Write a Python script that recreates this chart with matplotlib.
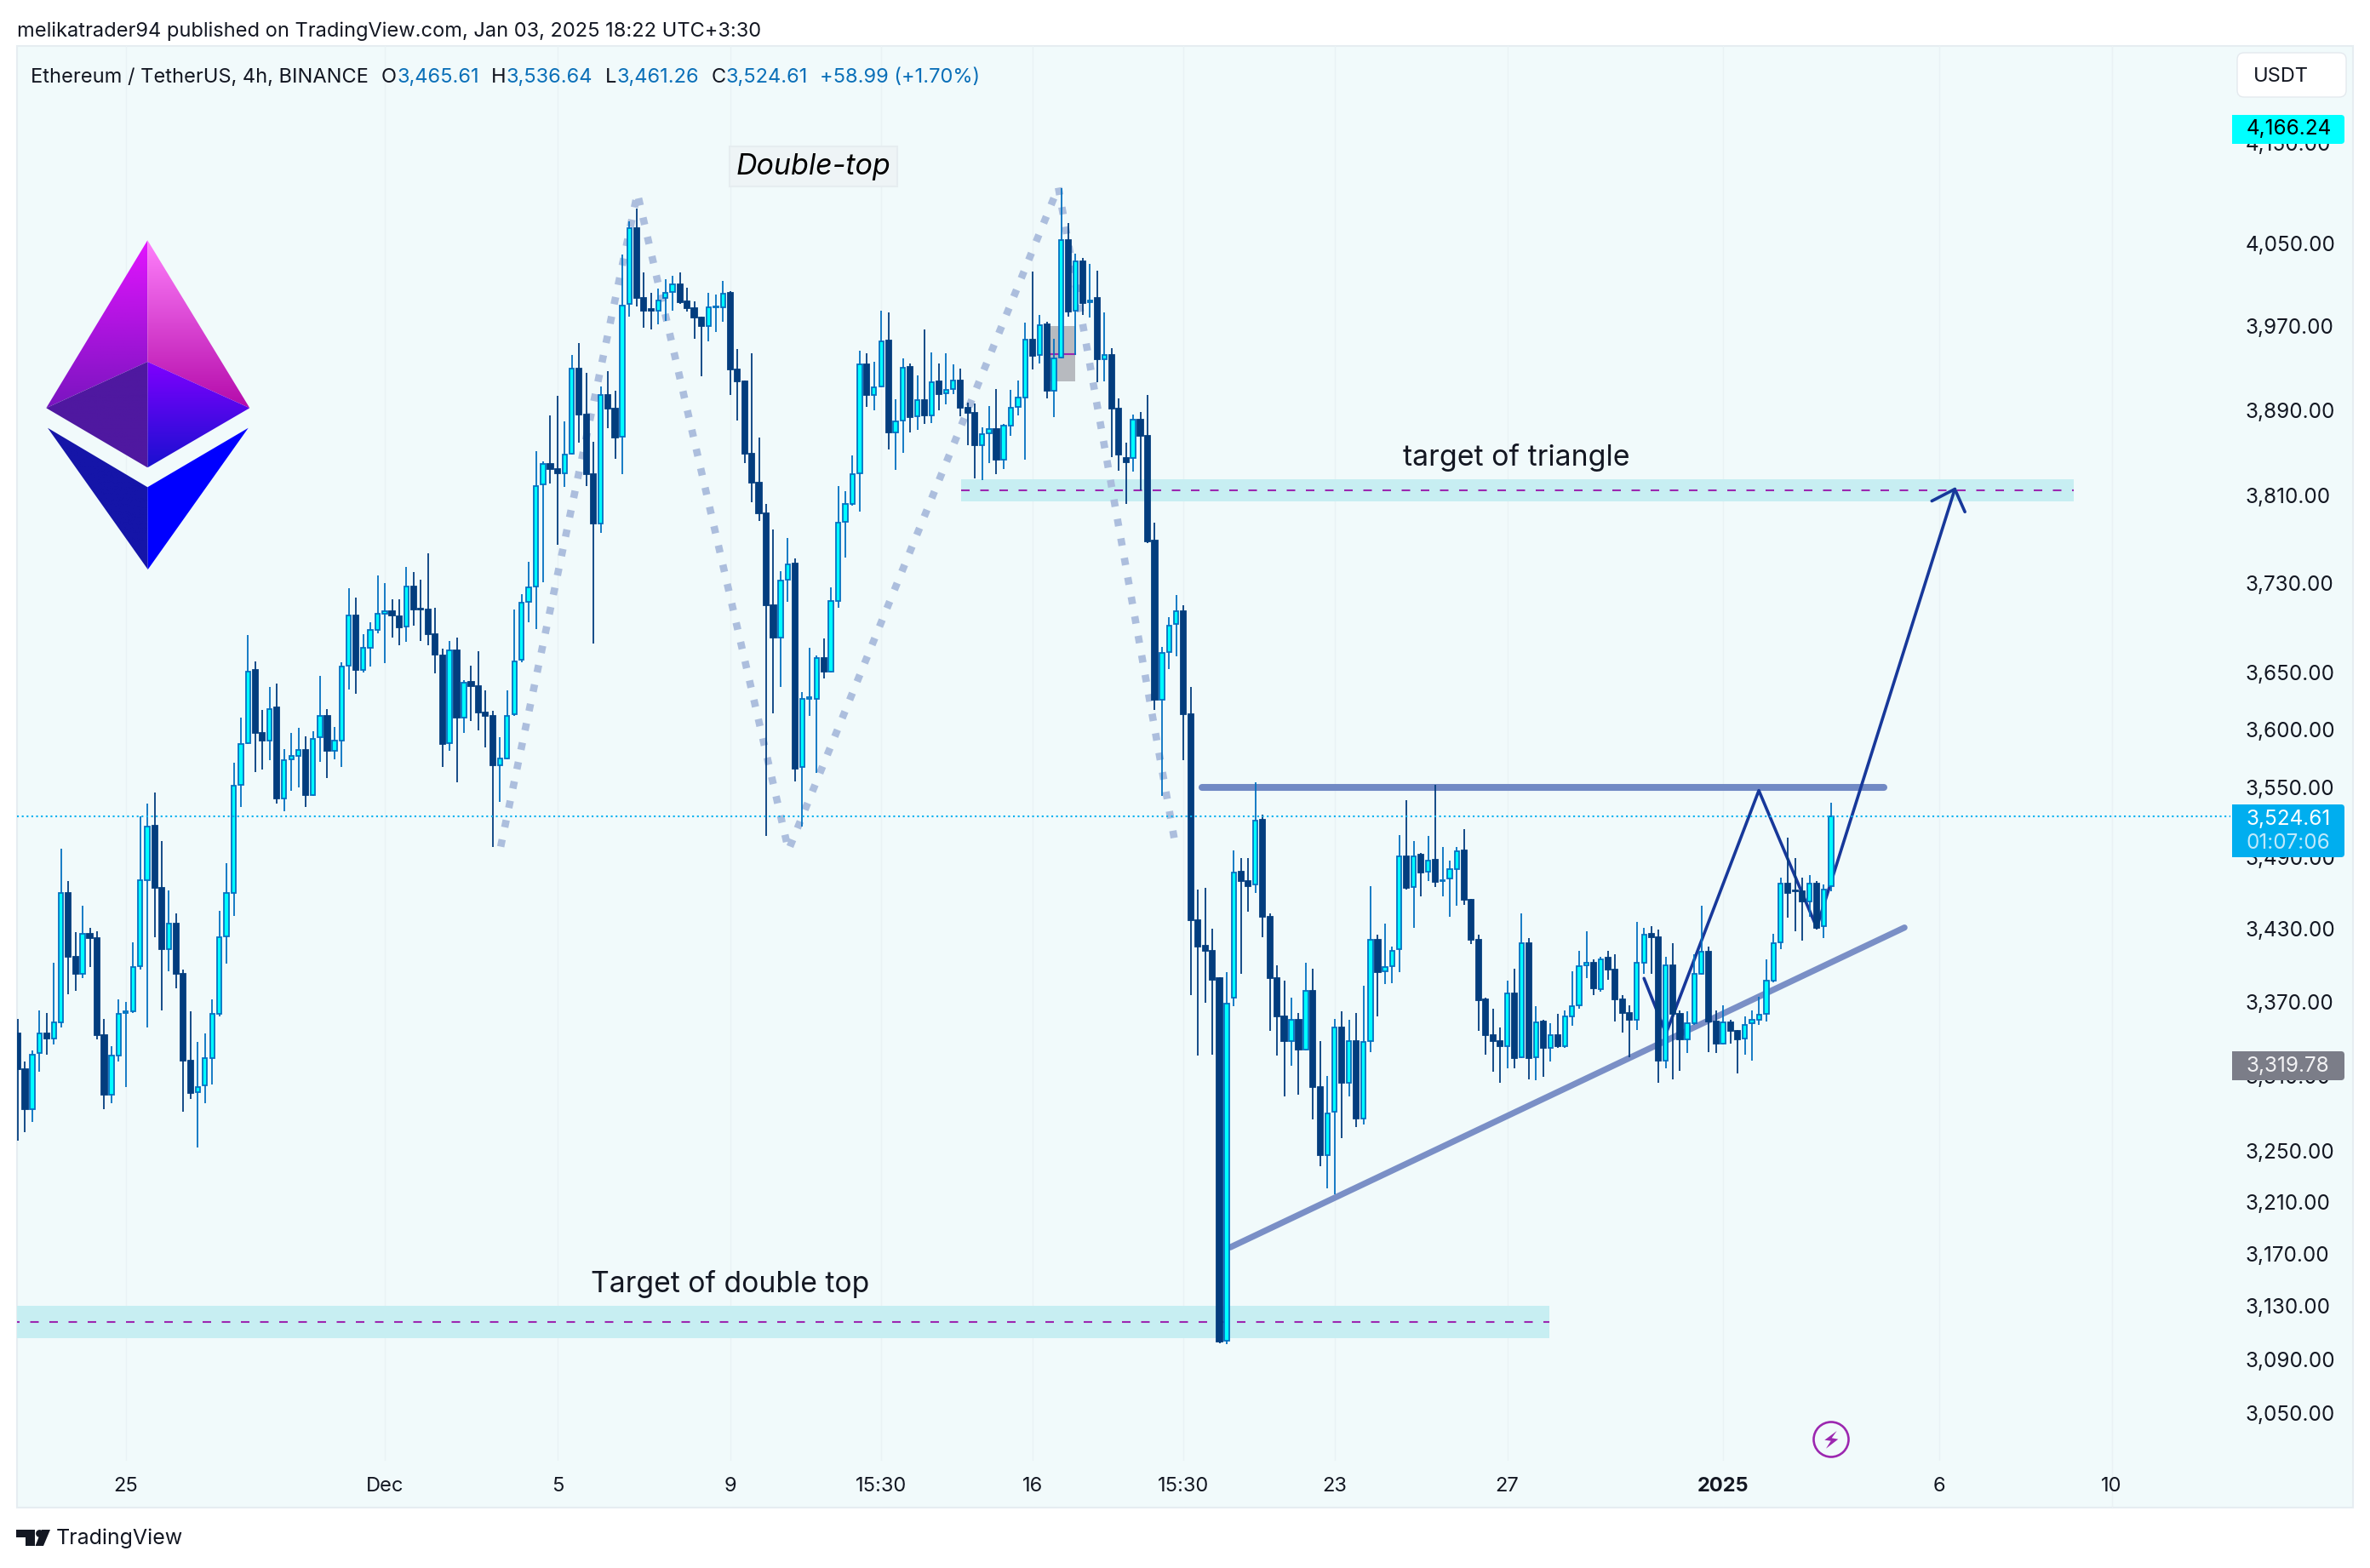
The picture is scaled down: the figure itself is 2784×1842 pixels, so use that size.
import numpy as np
import matplotlib
matplotlib.use("Agg")
import matplotlib.pyplot as plt
from matplotlib.colors import LinearSegmentedColormap
from matplotlib.patches import Circle, FancyBboxPatch, Polygon, Rectangle

plt.rcParams["font.family"] = ["Inter", "Roboto", "DejaVu Sans"]

W, H = 2784, 1842

# ---- 4h candles ----
opens = [
    3344,3315,3283,3328,3344,3340,3353,3460,3407,3393, 3426,3422,3343,3295,3326,3361,3362,3399,3471,3517,
    3464,3413,3434,3393,3322,3297,3302,3324,3360,3424, 3460,3552,3588,3652,3597,3590,3619,3540,3574,3577,
    3582,3543,3593,3612,3581,3590,3656,3701,3652,3672, 3688,3702,3705,3700,3691,3727,3707,3706,3684,3665,
    3588,3670,3610,3642,3638,3615,3612,3569,3575,3613, 3661,3713,3727,3820,3839,3835,3831,3849,3929,3886,
    3830,3784,3904,3891,3865,3991,4065,3997,3986,3985, 3997,4003,4010,3994,3987,3978,3970,3988,3988,4002,
    3928,3917,3849,3822,3794,3710,3681,3733,3748,3567, 3627,3627,3663,3651,3714,3786,3802,3831,3933,3904,
    3912,3956,3869,3880,3931,3884,3899,3885,3917,3906, 3910,3918,3892,3887,3857,3868,3872,3843,3875,3893,
    3902,3957,3942,3972,3908,3940,4054,3985,4033,3993, 3997,3938,3942,3891,3845,3845,3881,3866,3769,3626,
    3668,3693,3705,3613,3437,3416,3412,3389,3104,3373, 3478,3470,3467,3522,3440,3389,3358,3338,3355,3331,
    3379,3301,3247,3281,3349,3304,3338,3276,3338,3421, 3395,3399,3413,3491,3465,3492,3478,3488,3470,3472,
    3480,3496,3454,3421,3372,3343,3338,3334,3377,3325, 3418,3325,3354,3332,3343,3334,3358,3367,3400,3402,
    3380,3406,3396,3372,3361,3355,3402,3426,3423,3322, 3400,3360,3339,3352,3393,3411,3354,3336,3353,3346,
    3340,3352,3355,3360,3387,3419,3468,3462,3461,3453, 3468,3432,3465.61,
]
highs = [
    3356,3321,3330,3363,3361,3402,3497,3470,3427,3449, 3431,3428,3356,3334,3372,3370,3419,3525,3536,3545,
    3504,3462,3443,3396,3362,3337,3344,3372,3445,3485, 3571,3610,3683,3660,3617,3637,3640,3583,3597,3601,
    3594,3598,3647,3618,3602,3659,3725,3717,3684,3695, 3737,3730,3715,3715,3745,3740,3733,3757,3708,3671,
    3678,3681,3643,3656,3669,3634,3616,3593,3634,3706, 3720,3749,3851,3842,3885,3903,3879,3942,3954,3925,
    3860,3912,3927,3908,4039,4072,4085,4022,4002,4006, 4015,4019,4022,4007,3994,3979,4002,4000,4014,4004,
    3948,3918,3944,3864,3802,3779,3741,3771,3752,3633, 3672,3665,3680,3726,3819,3814,3847,3946,3944,3936,
    3985,3983,3900,3939,3934,3923,3967,3945,3934,3944, 3933,3929,3897,3896,3874,3894,3910,3877,3909,3918,
    3973,4023,3981,3974,3958,4105,4070,4040,4036,4030, 4024,3983,3949,3901,3859,3886,3888,3904,3785,3673,
    3699,3719,3710,3637,3463,3464,3430,3390,3394,3496, 3489,3489,3554,3526,3443,3400,3387,3373,3361,3402,
    3397,3338,3310,3356,3362,3355,3361,3383,3466,3425, 3434,3415,3509,3539,3504,3494,3508,3552,3499,3487,
    3499,3514,3455,3425,3373,3364,3349,3387,3397,3443, 3422,3366,3355,3352,3360,3363,3395,3412,3428,3405,
    3407,3412,3409,3375,3367,3436,3431,3432,3429,3407, 3418,3363,3362,3409,3449,3415,3363,3367,3355,3347,
    3358,3363,3374,3405,3426,3473,3507,3489,3473,3475, 3470,3467,3536.64,
]
lows = [
    3258,3265,3273,3313,3327,3335,3349,3376,3379,3389, 3398,3339,3283,3288,3321,3301,3361,3396,3349,3423,
    3363,3395,3381,3281,3291,3253,3288,3303,3358,3401, 3441,3533,3587,3563,3565,3573,3536,3529,3547,3550,
    3533,3542,3572,3558,3574,3567,3635,3631,3650,3655, 3685,3658,3681,3674,3677,3692,3678,3674,3649,3567,
    3581,3554,3597,3607,3599,3584,3499,3537,3574,3612, 3659,3695,3689,3731,3821,3765,3818,3848,3859,3819,
    3676,3776,3873,3844,3830,3979,3989,3968,3967,3972, 3975,3985,3991,3984,3958,3922,3955,3964,3974,3904,
    3880,3840,3804,3787,3508,3614,3637,3713,3555,3516, 3612,3562,3645,3650,3708,3753,3801,3795,3893,3890,
    3911,3853,3834,3850,3869,3871,3877,3878,3890,3895, 3905,3884,3857,3826,3824,3840,3830,3835,3866,3885,
    3843,3928,3934,3901,3883,3939,3979,3942,3981,3978, 3916,3917,3846,3833,3802,3832,3815,3766,3617,3542,
    3653,3664,3573,3375,3326,3369,3327,3102,3101,3366, 3393,3444,3460,3423,3346,3326,3293,3318,3295,3330,
    3275,3238,3221,3216,3260,3293,3269,3271,3329,3358, 3384,3385,3394,3463,3431,3457,3470,3465,3457,3440,
    3449,3450,3417,3346,3327,3313,3304,3316,3316,3324, 3307,3306,3309,3321,3332,3332,3350,3364,3389,3375,
    3378,3388,3354,3345,3325,3347,3393,3393,3304,3316, 3307,3314,3328,3351,3392,3329,3328,3335,3336,3312,
    3327,3322,3351,3354,3386,3413,3439,3428,3420,3440, 3429,3422,3461.26,
]
closes = [
    3315,3283,3327,3344,3340,3353,3460,3407,3393,3426, 3422,3343,3295,3326,3360,3362,3398,3471,3516,3464,
    3413,3434,3393,3322,3296,3301,3324,3360,3423,3460, 3551,3587,3651,3597,3590,3618,3540,3573,3577,3582,
    3543,3592,3612,3581,3590,3655,3701,3652,3672,3688, 3702,3705,3701,3690,3727,3706,3706,3684,3666,3587,
    3670,3610,3641,3638,3615,3612,3569,3575,3612,3660, 3712,3726,3819,3839,3835,3831,3848,3929,3886,3830,
    3784,3904,3891,3864,3990,4065,3997,3985,3985,3995, 4002,4010,3993,3987,3978,3970,3988,3989,4001,3928,
    3917,3849,3822,3794,3710,3681,3732,3747,3566,3627, 3628,3663,3651,3714,3785,3802,3830,3933,3904,3911,
    3955,3869,3879,3930,3883,3899,3885,3916,3905,3909, 3918,3892,3887,3857,3867,3872,3843,3875,3892,3902,
    3957,3941,3971,3908,3939,4054,3984,4033,3992,3995, 3938,3942,3891,3848,3841,3881,3866,3768,3626,3667,
    3692,3705,3613,3437,3415,3412,3388,3103,3368,3477, 3470,3466,3521,3440,3389,3358,3338,3355,3331,3379,
    3301,3247,3280,3349,3304,3338,3276,3337,3421,3394, 3398,3412,3491,3464,3491,3477,3487,3469,3471,3480,
    3495,3454,3421,3371,3343,3338,3334,3377,3324,3418, 3324,3353,3332,3343,3334,3358,3366,3399,3402,3381,
    3405,3396,3372,3361,3355,3402,3425,3423,3322,3400, 3360,3339,3352,3393,3411,3354,3336,3353,3346,3339,
    3351,3355,3359,3387,3418,3468,3460,3461,3453,3468, 3431,3463,3524.61,
]

price_ticks = [3050, 3090, 3130, 3170, 3210, 3250, 3310, 3370, 3430, 3490, 3550,
               3600, 3650, 3730, 3810, 3890, 3970, 4050, 4150]
date_pos = [15, 51, 75, 99, 120, 141, 162, 183, 207, 237, 267, 291]
date_labels = ["25", "Dec", "5", "9", "15:30", "16", "15:30", "23", "27", "2025", "6", "10"]

# drawings (bar index, price)
dbl_top_x = [67.1, 86.1, 107.1, 144.6, 160.8]
dbl_top_p = [3499, 4100, 3496, 4106, 3503]
res_x, res_p = [164.6, 259.3], [3550, 3550]
sup_x, sup_p = [168.5, 262.2], [3175, 3431]
path_x = [226.0, 229.06, 241.96, 250.0, 269.2]
path_p = [3389, 3344, 3547, 3431, 3816]
head_x = [266.0, 269.2, 270.6]
head_p = [3805, 3816, 3795]
last_price = 3524.61

NAVY, BLUE, CYAN = "#033d7e", "#0571c1", "#00ffff"
INK = "#131722"
PANEL = "#f1fafb"
LABEL_SIZE = 17.5

fig = plt.figure(figsize=(W / 100, H / 100), dpi=100, facecolor="white")


def pixel_axes(z):
    a = fig.add_axes([0, 0, 1, 1], zorder=z)
    a.set_xlim(0, W); a.set_ylim(H, 0)
    a.axis("off")
    return a


bg = pixel_axes(0)
fg = pixel_axes(2)

# panel + price scale divider
bg.add_patch(Rectangle((20, 54), 2744, 1717, fc=PANEL, ec="#e6edf1", lw=1.5))
bg.plot([2481, 2481], [54, 1771], color="#e9f1f4", lw=1)

# ---- main chart axes: log price against bar index ----
ax = fig.add_axes([20 / W, (H - 1716) / H, 2461 / W, 1662 / H], zorder=1)
ax.patch.set_alpha(0)
ax.set_yscale("log")
ax.set_ylim(3014.8, 4249)
ax.set_xlim(-0.118, 291.05)
for s in ax.spines.values():
    s.set_visible(False)

ax.set_xticks(date_pos)
ax.set_xticklabels(date_labels, fontsize=17, color=INK)
ax.get_xticklabels()[date_labels.index("2025")].set_fontweight("bold")
ax.tick_params(axis="x", length=0, pad=14)
ax.grid(axis="x", color="#e9f2f5", lw=1)
ax.set_axisbelow(True)

ax.yaxis.tick_right()
ax.minorticks_off()
ax.set_yticks(price_ticks)
ax.set_yticklabels([f"{p:,.2f}" for p in price_ticks], fontsize=LABEL_SIZE, color=INK)
ax.tick_params(axis="y", which="both", length=0, pad=113)
ax.yaxis.set_minor_locator(matplotlib.ticker.NullLocator())

# target zones
ax.fill_between([131.1, 285.7], 3805, 3825, color="#c7eef2", lw=0, zorder=1.2)
ax.fill_between([-1, 212.9], 3105.6, 3130, color="#c7eef2", lw=0, zorder=1.2)
ax.plot([131.1, 285.7], [3815, 3815], color="#9c27b0", lw=1.5, ls=(0, (4.8, 6)), zorder=1.3)
ax.plot([-1, 212.9], [3118, 3118], color="#9c27b0", lw=1.5, ls=(0, (4.8, 6)), zorder=1.3)
ax.fill_between([143.4, 146.9], 3917, 3970, color="#b7babf", lw=0, zorder=1.2)
ax.plot([143.4, 146.9], [3943, 3943], color="#9c27b0", lw=1.5, zorder=1.3)

# drawings sit under the candles
ax.plot(dbl_top_x, dbl_top_p, color="#a9bbdc", lw=6.2, ls=(0, (1, 1.7)), alpha=0.95,
        dash_capstyle="butt", zorder=1.5)
ax.plot(res_x, res_p, color="#7189c4", lw=5.8, solid_capstyle="round", zorder=1.6)
ax.plot(sup_x, sup_p, color="#7a8fc6", lw=5.2, solid_capstyle="round", zorder=1.6)
ax.plot(path_x, path_p, color="#17389a", lw=2.6, solid_capstyle="round", solid_joinstyle="round", zorder=1.7)
ax.plot(head_x, head_p, color="#17389a", lw=2.6, solid_capstyle="round", solid_joinstyle="round", zorder=1.7)

# candles
o, h, l, c = map(np.array, (opens, highs, lows, closes))
idx = np.arange(len(o))
up = c >= o
ax.vlines(idx[~up], l[~up], h[~up], color=NAVY, lw=1.3, zorder=2)
ax.vlines(idx[up], l[up], h[up], color=BLUE, lw=1.3, zorder=2)
ax.bar(idx, np.abs(c - o), bottom=np.minimum(o, c), width=np.where(up, 0.63, 0.73),
       color=np.where(up, CYAN, NAVY), edgecolor=np.where(up, BLUE, NAVY), lw=1.3, zorder=3)

# last price line runs on into the price scale, up to its tag
ax.plot([-0.118, 307.5], [last_price, last_price], color="#00b0f0", lw=1.5,
        ls=(0, (1, 1.7)), zorder=4, clip_on=False)

# annotations on the chart
ax.text(110.6, 4126.5, "Double-top", fontsize=24.5, style="italic", color="black",
        ha="center", va="center", zorder=5,
        bbox=dict(boxstyle="square,pad=0.22", fc="#eef4f6", ec="#e6edf0", lw=1.5))
ax.text(208.3, 3845, "target of triangle", fontsize=24.4, color=INK, ha="center", va="center", zorder=5)
ax.text(99, 3147, "Target of double top", fontsize=24.2, color=INK, ha="center", va="center", zorder=5)

# ---- header text ----
fg.text(20, 37, "melikatrader94 published on TradingView.com, Jan 03, 2025 18:22 UTC+3:30",
        fontsize=17, color=INK, va="center")
legend_y = 91
fg.text(36, legend_y, "Ethereum / TetherUS, 4h, BINANCE", fontsize=17, color=INK, va="center")
for key, kx, val, vx in [("O", 448, "3,465.61", 466), ("H", 577, "3,536.64", 595),
                         ("L", 711, "3,461.26", 724), ("C", 836, "3,524.61", 853)]:
    fg.text(kx, legend_y, key, fontsize=17, color=INK, va="center")
    fg.text(vx, legend_y, val, fontsize=17, color="#0a6fb8", va="center")
fg.text(963, legend_y, "+58.99 (+1.70%)", fontsize=17, color="#0a6fb8", va="center")

# USDT button
fg.add_patch(FancyBboxPatch((2628, 62), 128, 52, boxstyle="round,pad=0,rounding_size=8",
                            fc="white", ec="#e4e9ee", lw=1))
fg.text(2647, 90, "USDT", fontsize=17, color=INK, va="center")


def tag(y0, y1, color):
    # rounded on the right, square against the chart
    fg.add_patch(FancyBboxPatch((2622, y0), 132, y1 - y0, boxstyle="round,pad=0,rounding_size=4",
                                fc=color, ec="none"))
    fg.add_patch(Rectangle((2622, y0), 20, y1 - y0, fc=color, ec="none"))


tag(135, 169, CYAN)
fg.text(2639, 152, "4,166.24", fontsize=LABEL_SIZE, color="black", va="center")
tag(945, 1007, "#00aeef")
fg.text(2639, 962, "3,524.61", fontsize=LABEL_SIZE, color="white", va="center")
fg.text(2639, 990, "01:07:06", fontsize=LABEL_SIZE, color="#bfe9fb", va="center")
tag(1235, 1269, "#7b7d88")
fg.text(2639, 1252, "3,319.78", fontsize=LABEL_SIZE, color="#f2f2f4", va="center")

# ---- ethereum logo ----
faces = [
    ([(173.3, 282.3), (54.3, 479.3), (173.3, 425)], ["#e314ff", "#7a14c0"]),
    ([(173.3, 282.3), (293.3, 479.3), (173.3, 425)], ["#ff80fb", "#b50cab"]),
    ([(173.3, 425), (293.3, 479.3), (173.3, 549.3)], ["#8000ff", "#1a10d0"]),
    ([(173.3, 425), (54.3, 479.3), (173.3, 549.3)], ["#4f18a0", "#4f18a0"]),
    ([(56, 502.7), (173.3, 572.3), (173.7, 669)], ["#1515a8", "#1515a8"]),
    ([(291.7, 502.7), (173.3, 572.3), (173.7, 669)], ["#0000ff", "#0000ff"]),
]
for pts, cols in faces:
    pts = np.array(pts)
    poly = Polygon(pts, closed=True, fc="none", ec="none", transform=fg.transData)
    fg.add_patch(poly)
    grad = LinearSegmentedColormap.from_list("f", cols)
    im = fg.imshow(np.linspace(0, 1, 128).reshape(-1, 1), cmap=grad, aspect="auto",
                   extent=(pts[:, 0].min(), pts[:, 0].max(), pts[:, 1].max(), pts[:, 1].min()))
    im.set_clip_path(poly)
fg.set_xlim(0, W); fg.set_ylim(H, 0)

# ---- lightning badge ----
fg.add_patch(Circle((2151, 1691), 20.5, fc="none", ec="#9c27b0", lw=1.9))
fg.add_patch(Polygon([(2157.7, 1681), (2143.3, 1691.7), (2150.7, 1692.7), (2145, 1701.7),
                      (2159.3, 1690.7), (2151.7, 1689.3)], closed=True, fc="#9c27b0", ec="none"))

# ---- TradingView mark ----
fg.add_patch(Polygon([(19, 1797), (41, 1797), (41, 1816), (30, 1816), (30, 1806), (19, 1806)],
                     closed=True, fc=INK, ec="none"))
fg.add_patch(Circle((46.5, 1801.5), 4.4, fc=INK, ec="none"))
fg.add_patch(Polygon([(49, 1797), (59, 1797), (51, 1816), (41.5, 1816)], closed=True, fc=INK, ec="none"))
fg.text(66, 1807, "TradingView", fontsize=18, color=INK, va="center")

fig.savefig("out.png", dpi=100, facecolor="white")
